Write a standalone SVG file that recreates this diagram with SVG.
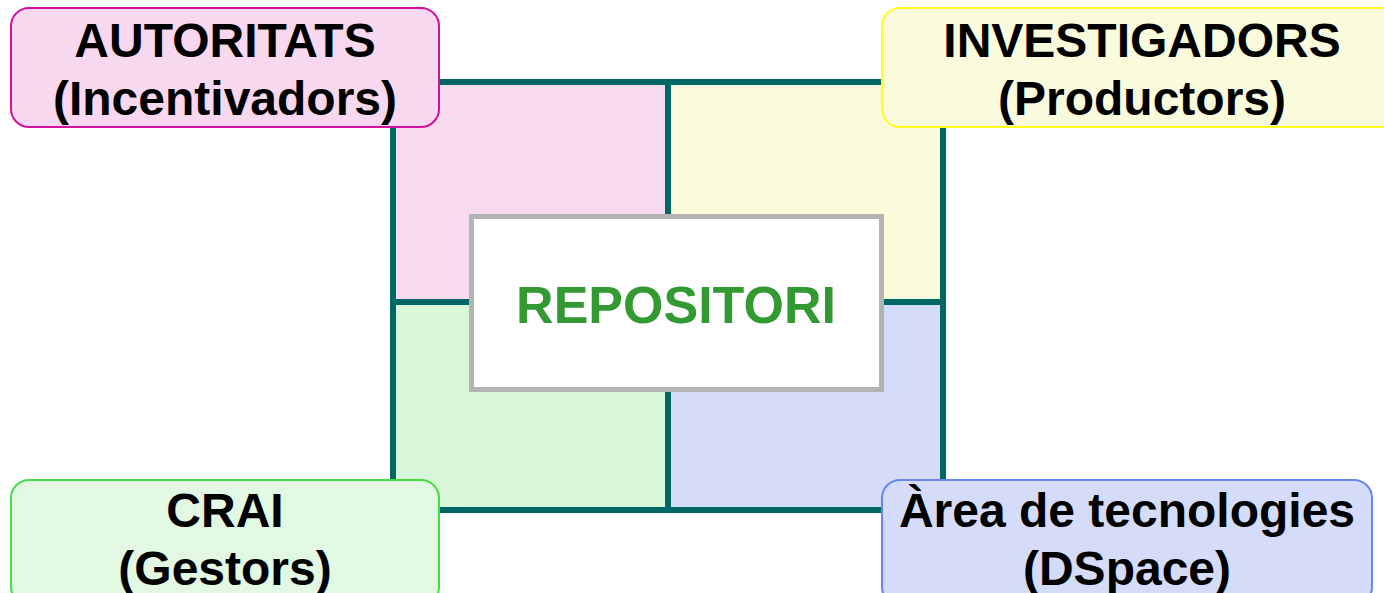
<svg xmlns="http://www.w3.org/2000/svg" width="1384" height="593" viewBox="0 0 1384 593">
<style>
.lbl{font-family:"Liberation Sans",Arial,sans-serif;font-weight:bold;font-size:48px;fill:#000;text-anchor:middle}
.node{stroke-width:2}
.frame{stroke:#006864;stroke-width:6;fill:none;stroke-linecap:square}
</style>
<rect width="1384" height="593" fill="#fff"/>
<g id="quadrants">
<rect x="393" y="82" width="275" height="220" fill="#f8daee"/>
<rect x="668" y="82" width="275" height="220" fill="#fafadc"/>
<rect x="393" y="302" width="275" height="208" fill="#d9f7d9"/>
<rect x="668" y="302" width="275" height="208" fill="#d4dcfa"/>
</g>
<g id="connectors" class="frame">
<rect x="393" y="82" width="550" height="428"/>
<line x1="668" y1="82" x2="668" y2="510"/>
<line x1="393" y1="302" x2="943" y2="302"/>
</g>
<g id="repositori">
<rect x="471.5" y="216.5" width="410" height="173" fill="#fff" stroke="#b3b3b3" stroke-width="5"/>
<text x="676" y="323" font-family="Liberation Sans, Arial, sans-serif" font-weight="bold" font-size="52" fill="#339933" text-anchor="middle">REPOSITORI</text>
</g>
<g id="autoritats">
<rect class="node" x="11" y="8" width="428" height="119" rx="18" fill="#f8d8ee" stroke="#d4119f"/>
<text class="lbl" x="225" y="57">AUTORITATS</text>
<text class="lbl" x="225" y="115">(Incentivadors)</text>
</g>
<g id="investigadors">
<rect class="node" x="882" y="8" width="520" height="119" rx="18" fill="#fafadc" stroke="#ffff22"/>
<text class="lbl" x="1142" y="57">INVESTIGADORS</text>
<text class="lbl" x="1142" y="115">(Productors)</text>
</g>
<g id="crai">
<rect class="node" x="11" y="480" width="428" height="125" rx="18" fill="#e2f8e2" stroke="#44dd44"/>
<text class="lbl" x="225" y="527">CRAI</text>
<text class="lbl" x="225" y="585">(Gestors)</text>
</g>
<g id="area-tecnologies">
<rect class="node" x="882" y="480" width="490" height="125" rx="18" fill="#d4dcfa" stroke="#6688ee"/>
<text class="lbl" x="1127" y="527">Àrea de tecnologies</text>
<text class="lbl" x="1127" y="585">(DSpace)</text>
</g>
</svg>
